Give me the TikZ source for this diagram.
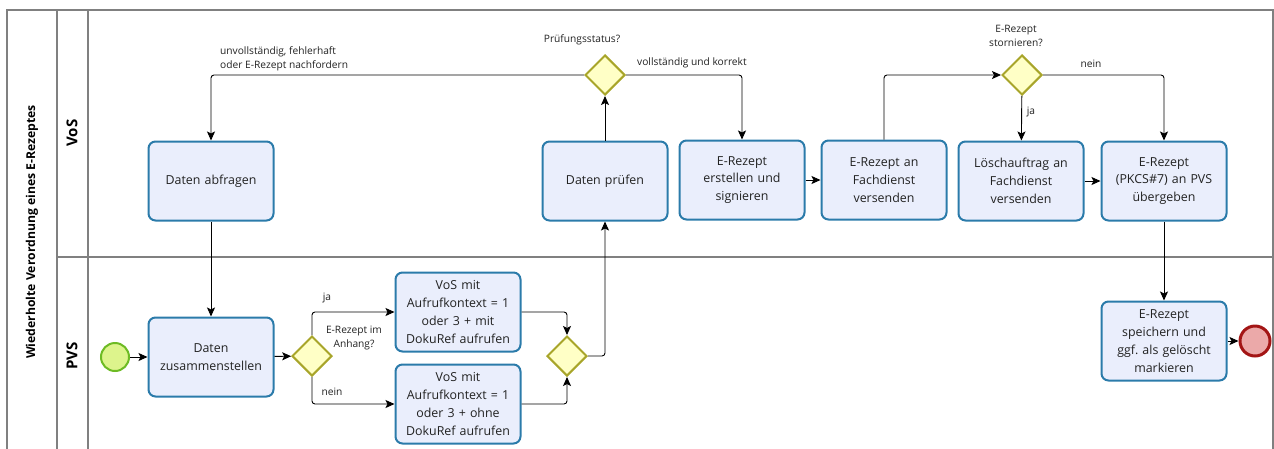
\documentclass[tikz,border=0pt]{standalone}
\usepackage{fontspec}
\setmainfont{Open Sans}
\frenchspacing
\usetikzlibrary{arrows.meta,shapes.geometric}
\definecolor{taskfill}{HTML}{EAEEFC}
\definecolor{taskdraw}{HTML}{2B7BAA}
\definecolor{gwfill}{HTML}{FFFFC6}
\definecolor{gwdraw}{HTML}{A8A52A}
\definecolor{stfill}{HTML}{DDF48C}
\definecolor{stdraw}{HTML}{6DBB24}
\definecolor{enfill}{HTML}{EBA9A9}
\definecolor{endraw}{HTML}{A31515}
\definecolor{lanec}{HTML}{808080}
\definecolor{txt}{HTML}{222222}
\tikzset{
  task/.style={draw=taskdraw,fill=taskfill,line width=2pt,rounded corners=7pt,
    minimum width=125pt,minimum height=79pt,align=center,text width=120pt,
    font=\fontsize{12.4}{17.8}\selectfont,text=txt,inner sep=0pt},
  gw/.style={diamond,draw=gwdraw,fill=gwfill,line width=2pt,minimum width=40pt,minimum height=40pt,inner sep=0pt,aspect=1},
  startev/.style={circle,draw=stdraw,fill=stfill,line width=2pt,minimum size=28pt,inner sep=0pt},
  endev/.style={circle,draw=endraw,fill=enfill,line width=3pt,minimum size=30pt,inner sep=0pt},
  flow/.style={draw=black,line width=0.9pt,rounded corners=3pt,-{Stealth[length=9pt,width=8pt,inset=2pt]}},
  lbl/.style={font=\fontsize{10.2}{14}\selectfont,text=txt,align=center,inner sep=0pt},
  lane/.style={draw=lanec,line width=1.2pt},
  lanelbl/.style={font=\fontsize{15}{17}\selectfont\bfseries,text=black,rotate=90},
}
\begin{document}
\begin{tikzpicture}[x=1pt,y=-1pt]
\useasboundingbox (0,0) rectangle (1274,448);
\begin{scope}
\clip (0,0) rectangle (1274,448);
% pool and lanes
\draw[lane] (7,460) -- (7,10) -- (1273,10) -- (1273,460);
\draw[lane] (57,10) -- (57,460);
\draw[lane] (88,10) -- (88,460);
\draw[lane] (57,257) -- (1273,257);
\node[lanelbl,font=\fontsize{12.2}{14}\selectfont\bfseries] (pool) at (32,232) {Wiederholte Verordnung eines E-Rezeptes};
\node[lanelbl] (vos) at (72,133) {VoS};
\node[lanelbl] (pvs) at (72,356) {PVS};

% nodes
\node[task] (abfragen) at (211,181) {Daten abfragen};
\node[task] (zusammen) at (211,357) {Daten\\zusammenstellen};
\node[startev] (start) at (115,357) {};
\node[gw] (g1) at (312,356) {};
\node[task] (mit) at (458,312) {VoS mit\\Aufrufkontext = 1\\oder 3 + mit\\DokuRef aufrufen};
\node[task] (ohne) at (458,404) {VoS mit\\Aufrufkontext = 1\\oder 3 + ohne\\DokuRef aufrufen};
\node[gw] (g2) at (567,356) {};
\node[task] (pruefen) at (605,181) {Daten prüfen};
\node[gw] (gp) at (605,75) {};
\node[task] (erstellen) at (742,180) {E-Rezept\\erstellen und\\signieren};
\node[task] (fach) at (884,180) {E-Rezept an\\Fachdienst\\versenden};
\node[gw] (gs) at (1022,75) {};
\node[task] (loesch) at (1021,181) {Löschauftrag an\\Fachdienst\\versenden};
\node[task] (pkcs) at (1164,181) {E-Rezept\\(PKCS\#7) an PVS\\übergeben};
\node[task] (speichern) at (1164,341) {E-Rezept\\speichern und\\ggf. als gelöscht\\markieren};
\node[endev] (end) at (1255,341) {};

% labels
\node[lbl] (lgp) at (582,40) {Prüfungsstatus?};
\node[lbl,align=left,anchor=west] (lunv) at (220,59) {unvollständig, fehlerhaft\\oder E-Rezept nachfordern};
\node[lbl,anchor=west] (lvoll) at (637,63) {vollständig und korrekt};
\node[lbl] (lgs) at (1016,36) {E-Rezept\\stornieren?};
\node[lbl] (lnein2) at (1091,64) {nein};
\node[lbl] (lja2) at (1031,112) {ja};
\node[lbl] (lja1) at (327,298) {ja};
\node[lbl] (lnein1) at (332,392) {nein};
\node[lbl] (lg1) at (354,338) {E-Rezept im\\Anhang?};

% flows
\draw[flow] (start) -- (zusammen);
\draw[flow] (zusammen) -- (g1);
\draw[flow] (g1.north) |- (mit.west);
\draw[flow] (g1.south) |- (ohne.west);
\draw[flow] (mit.east) -| (g2.north);
\draw[flow] (ohne.east) -| (g2.south);
\draw[flow] (g2.east) -| (pruefen.south);
\draw[flow] (pruefen) -- (gp);
\draw[flow] (gp.west) -| (abfragen.north);
\draw[flow] (gp.east) -| (erstellen.north);
\draw[flow] (abfragen) -- (zusammen);
\draw[flow] (erstellen) -- (fach);
\draw[flow] (fach.north) |- (gs.west);
\draw[flow] (gs) -- (loesch);
\draw[flow] (gs.east) -| (pkcs.north);
\draw[flow] (loesch) -- (pkcs);
\draw[flow] (pkcs) -- (speichern);
\draw[flow] (speichern) -- (end);
\end{scope}
\end{tikzpicture}
\end{document}
